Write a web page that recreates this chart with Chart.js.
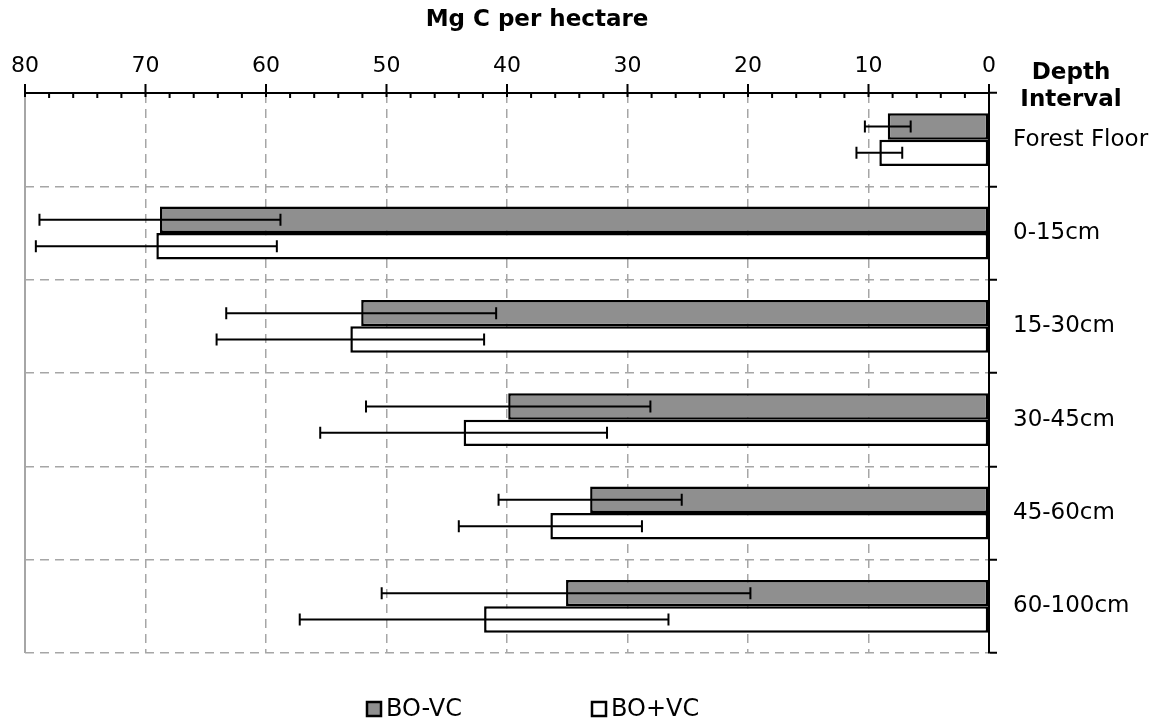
<!DOCTYPE html>
<html>
<head>
<meta charset="utf-8">
<script src="https://cdn.jsdelivr.net/npm/chart.js@4/dist/chart.umd.min.js"></script>
<style>
  html, body { margin: 0; padding: 0; background: #fff; }
</style>
</head>
<body>
<canvas id="carbonChart" width="1159" height="725"></canvas>
<script>
// Depth intervals and carbon stocks (Mg C / ha)
const depths = ['Forest Floor', '0-15cm', '15-30cm', '30-45cm', '45-60cm', '60-100cm'];
const boMinusVc = [8.4, 68.8, 52.1, 39.9, 33.1, 35.1];
const boMinusVcErr = [1.9, 10.0, 11.2, 11.8, 7.6, 15.3];
const boPlusVc = [9.1, 69.1, 53.0, 43.6, 36.4, 41.9];
const boPlusVcErr = [1.9, 10.0, 11.1, 11.9, 7.6, 15.3];
const xTicks = [0, 10, 20, 30, 40, 50, 60, 70, 80];

const FONT = "'DejaVu Sans', Verdana, sans-serif";
const GRID = '#a6a6a6';

// error bars, drawn through the x scale
const errorBars = {
  id: 'errorBars',
  afterDatasetsDraw(chart) {
    const ctx = chart.ctx;
    const xs = chart.scales.x;
    ctx.save();
    ctx.strokeStyle = '#000';
    ctx.lineWidth = 2;
    chart.data.datasets.forEach((ds, di) => {
      chart.getDatasetMeta(di).data.forEach((bar, i) => {
        const v = ds.data[i], e = ds.errors[i];
        const x1 = xs.getPixelForValue(v + e);
        const x2 = xs.getPixelForValue(v - e);
        const y = bar.y;
        ctx.beginPath();
        ctx.moveTo(x1, y); ctx.lineTo(x2, y);
        ctx.moveTo(x1, y - 6); ctx.lineTo(x1, y + 6);
        ctx.moveTo(x2, y - 6); ctx.lineTo(x2, y + 6);
        ctx.stroke();
      });
    });
    ctx.restore();
  }
};

// tick marks on top axis, left border, titles, legend
const decorations = {
  id: 'decorations',
  afterDraw(chart) {
    const ctx = chart.ctx;
    const xs = chart.scales.x;
    const area = chart.chartArea;
    ctx.save();

    ctx.strokeStyle = GRID;
    ctx.lineWidth = 2;
    ctx.beginPath();
    ctx.moveTo(area.left, area.top);
    ctx.lineTo(area.left, area.bottom);
    ctx.stroke();

    ctx.strokeStyle = '#000';
    ctx.lineWidth = 2;
    ctx.beginPath();
    for (let v = 0; v <= 80; v += 2) {
      const px = xs.getPixelForValue(v);
      if (v % 10 === 0) {
        ctx.moveTo(px, area.top - 9); ctx.lineTo(px, area.top + 4);
      } else {
        ctx.moveTo(px, area.top); ctx.lineTo(px, area.top + 5);
      }
    }
    ctx.stroke();

    ctx.fillStyle = '#000';
    ctx.textAlign = 'center';
    ctx.textBaseline = 'middle';
    ctx.font = 'bold 23px ' + FONT;
    ctx.fillText('Mg C per hectare', 537, 20);
    ctx.fillText('Depth', 1071, 73);
    ctx.fillText('Interval', 1071, 100);

    // legend
    ctx.font = '24px ' + FONT;
    ctx.textAlign = 'left';
    const ly = 710;
    const items = chart.data.datasets.map(ds => ({ text: ds.label, fill: ds.backgroundColor }));
    let lx = 367;
    items.forEach(it => {
      ctx.fillStyle = it.fill;
      ctx.strokeStyle = '#000';
      ctx.lineWidth = 2.5;
      ctx.fillRect(lx, ly - 8, 14, 14);
      ctx.strokeRect(lx, ly - 8, 14, 14);
      ctx.fillStyle = '#000';
      ctx.fillText(it.text, lx + 19, ly);
      lx += 225;
    });
    ctx.restore();
  }
};

new Chart(document.getElementById('carbonChart'), {
  type: 'bar',
  data: {
    labels: depths,
    datasets: [{
      label: 'BO-VC',
      data: boMinusVc,
      errors: boMinusVcErr,
      backgroundColor: '#8f8f8f',
      borderColor: '#000',
      borderWidth: 2.5,
      borderSkipped: false
    }, {
      label: 'BO+VC',
      data: boPlusVc,
      errors: boPlusVcErr,
      backgroundColor: '#ffffff',
      borderColor: '#000',
      borderWidth: 2.5,
      borderSkipped: false
    }]
  },
  options: {
    indexAxis: 'y',
    responsive: false,
    animation: false,
    categoryPercentage: 0.566,
    barPercentage: 1.0,
    layout: { padding: { top: 0, left: 25, right: 0, bottom: 72 } },
    plugins: {
      legend: { display: false },
      tooltip: { enabled: false }
    },
    scales: {
      x: {
        type: 'linear',
        position: 'top',
        reverse: true,
        min: 0,
        max: 80,
        afterBuildTicks: scale => { scale.ticks = xTicks.map(v => ({ value: v })); },
        afterFit: scale => { scale.height = 93; },
        ticks: { color: '#000', font: { family: FONT, size: 22 }, padding: 14 },
        grid: {
          color: c => (c.tick && (c.tick.value === 0 || c.tick.value === 80)) ? 'transparent' : GRID,
          lineWidth: 1.5,
          drawTicks: false
        },
        border: { display: true, color: '#000', width: 2, dash: [9, 6] }
      },
      y: {
        position: 'right',
        afterFit: scale => { scale.width = 170; },
        ticks: { color: '#000', font: { family: FONT, size: 23 }, padding: 16 },
        grid: {
          color: c => c.index === 0 ? 'transparent' : GRID,
          lineWidth: c => c.index === depths.length ? 2.5 : 1.5,
          drawTicks: true,
          tickLength: 8,
          tickColor: '#000',
          tickWidth: 2,
          tickBorderDash: []
        },
        border: { display: true, color: '#000', width: 2, dash: [9, 6] }
      }
    }
  },
  plugins: [errorBars, decorations]
});
</script>
</body>
</html>
